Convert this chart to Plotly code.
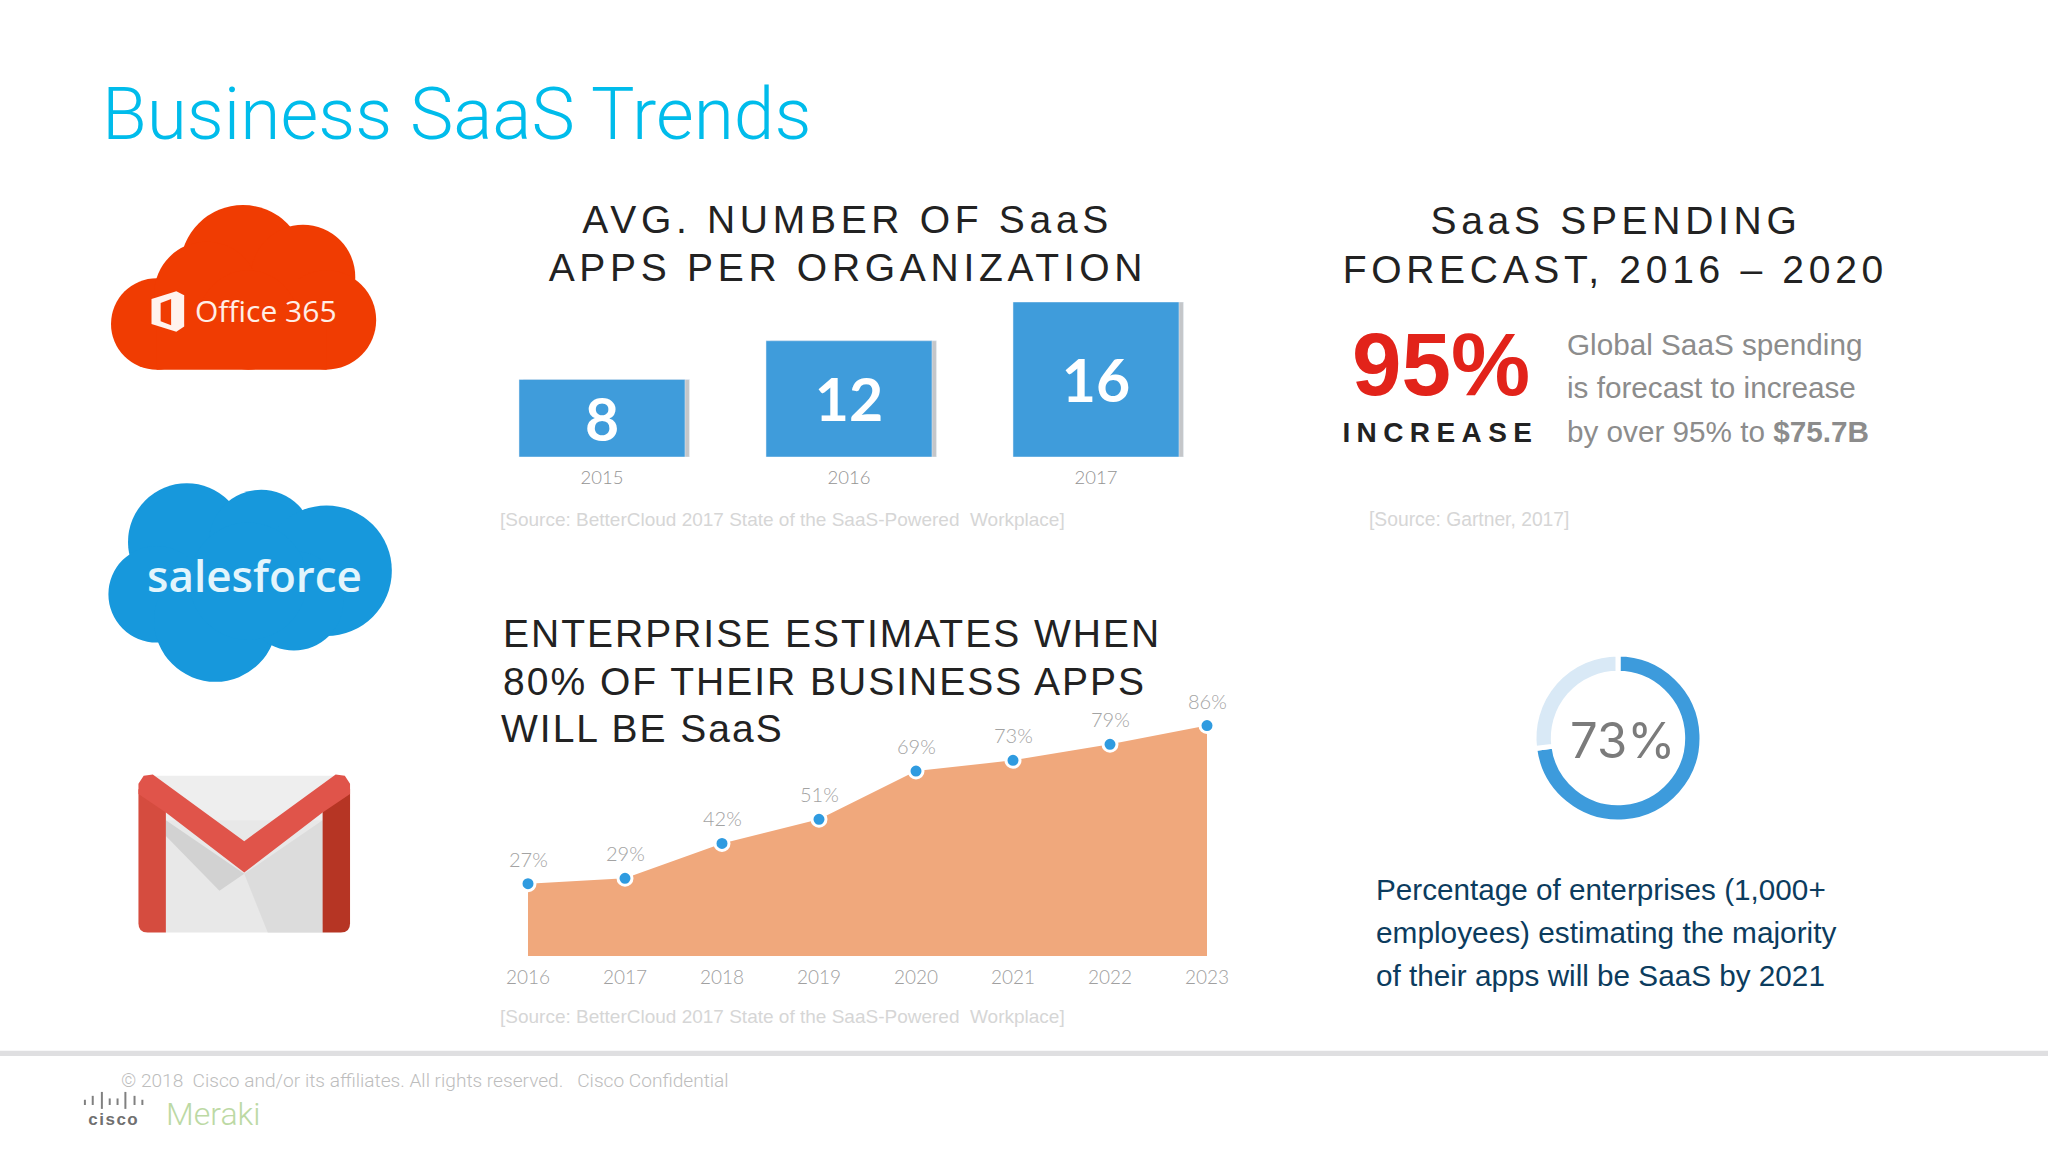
import json
import plotly.graph_objects as go

# datos
bar_years = ["2015", "2016", "2017"]
apps_per_org = [8, 12, 16]
area_years = [2016, 2017, 2018, 2019, 2020, 2021, 2022, 2023]
area_pct = [27, 29, 42, 51, 69, 73, 79, 86]
donut_values = [73, 27]

W, H = 2048, 1152
SANS = "Liberation Sans"
THIN = "Roboto"
GAUGE = "Lato"


def dom_x(a, b):
    return [a / W, b / W]


def dom_y(top, bottom):
    return [1 - bottom / H, 1 - top / H]


fig = go.Figure()

# barras con su sombra
fig.add_trace(go.Bar(x=bar_years, y=apps_per_org, width=0.672, offset=-0.318, marker_color="#c4c6c9",
                     hoverinfo="skip", showlegend=False, xaxis="x", yaxis="y", cliponaxis=False))
fig.add_trace(go.Bar(x=bar_years, y=apps_per_org, width=0.672, offset=-0.336, marker_color="#3f9cdb",
                     text=apps_per_org, textposition="inside", insidetextanchor="middle", textangle=0,
                     constraintext="none", textfont=dict(family=GAUGE, size=59, color="white", weight=700),
                     showlegend=False, xaxis="x", yaxis="y", cliponaxis=False))

# area
fig.add_trace(go.Scatter(x=area_years, y=area_pct, mode="lines", fill="tozeroy", fillcolor="#f0a87c",
                         line=dict(width=0, color="#f0a87c"), showlegend=False, xaxis="x2", yaxis="y2"))
fig.add_trace(go.Scatter(x=area_years, y=area_pct, mode="markers", cliponaxis=False,
                         marker=dict(size=14, color="#2f9be0", line=dict(width=3, color="white")),
                         showlegend=False, xaxis="x2", yaxis="y2"))

# anillo
fig.add_trace(go.Pie(values=donut_values, hole=0.77, sort=False, direction="clockwise", rotation=0,
                     marker=dict(colors=["#3d9bdc", "#d9e9f6"], line=dict(color="white", width=5)),
                     textinfo="none", hoverinfo="skip", showlegend=False,
                     domain=dict(x=dom_x(1534, 1702), y=dom_y(654, 822))))

annotations = []


def label(x, y, text, size, color, family=SANS, anchor="center", weight=None):
    # x, y en las coordenadas de la capa de fondo (0-1568)
    font = dict(family=family, size=size, color=color)
    if weight:
        font["weight"] = weight
    annotations.append(dict(xref="x3", yref="y3", x=x, y=y, text=text, showarrow=False, xanchor=anchor,
                            yanchor="middle", font=font, borderpad=0))


for year, pct in zip(area_years, area_pct):
    annotations.append(dict(xref="x2", yref="y2", x=year, y=pct, text=f"{pct}%", showarrow=False, yshift=25,
                            font=dict(family=GAUGE, size=20, color="#a3a3a3", weight=300)))

label(77, 87, "Business SaaS Trends", 73, "#00bceb", THIN, "left", 300)

label(649, 168, "AVG. NUMBER OF SaaS", 39, "#222222")
label(649, 205, "APPS PER ORGANIZATION", 39, "#222222")
label(1237, 169, "SaaS SPENDING", 39, "#222222")
label(1237, 206, "FORECAST, 2016 – 2020", 39, "#222222")
label(637, 485, "ENTERPRISE ESTIMATES WHEN", 39, "#222222")
label(631, 522, "80% OF THEIR BUSINESS APPS", 39, "#222222")
label(492, 558, "WILL BE SaaS", 39, "#222222")

label(1103, 279, "95%", 89, "#e2231a", SANS, "center", 700)
label(1103, 331, "INCREASE", 28, "#222222", SANS, "center", 700)
label(1199, 264, "Global SaaS spending", 29.7, "#8c8c8c", SANS, "left")
label(1199, 297, "is forecast to increase", 29.7, "#8c8c8c", SANS, "left")
label(1199, 330, "by over 95% to <b>$75.7B</b>", 29.7, "#8c8c8c", SANS, "left")

label(382, 398, "[Source: BetterCloud 2017 State of the SaaS-Powered  Workplace]", 19, "#d6d6d6", SANS, "left")
label(382, 778, "[Source: BetterCloud 2017 State of the SaaS-Powered  Workplace]", 19, "#d6d6d6", SANS, "left")
label(1047, 398, "[Source: Gartner, 2017]", 19.3, "#d6d6d6", SANS, "left")

label(1242, 567, "73%", 49, "#7b7b7b", "Inter")
label(1053, 681, "Percentage of enterprises (1,000+", 29.7, "#0c3c5e", SANS, "left")
label(1053, 714, "employees) estimating the majority", 29.8, "#0c3c5e", SANS, "left")
label(1053, 747, "of their apps will be SaaS by 2021", 29.7, "#0c3c5e", SANS, "left")

label(92, 827, "© 2018  Cisco and/or its affiliates. All rights reserved.   Cisco Confidential", 19.1, "#bdbdbd", THIN, "left", 300)
label(87, 857, "cisco", 17, "#707070", SANS, "center", 700)
label(126, 853, "Meraki", 32, "#bcd9a4", THIN, "left", 300)

label(204, 238, "Office 365", 30, "#ffeee6", "Open Sans")
label(195, 440, "salesforce", 44, "#e3f5fc", "Open Sans", "center", 600)

shapes = []


def circle(cx, cy, r, color):
    shapes.append(dict(type="circle", xref="x3", yref="y3", x0=cx - r, x1=cx + r, y0=cy - r, y1=cy + r,
                       fillcolor=color, line_width=0, layer="below"))


def poly(points, color):
    d = "M " + " L ".join(f"{x},{y}" for x, y in points) + " Z"
    shapes.append(dict(type="path", xref="x3", yref="y3", path=d, fillcolor=color, line_width=0, layer="below"))


# nube Office 365
orange = "#f03c02"
for cx, cy, r in [(186, 205, 48), (232, 212, 40), (250, 245, 38), (120, 248, 35), (158, 225, 40), (190, 245, 38)]:
    circle(cx, cy, r, orange)
poly([(120, 283), (250, 283), (250, 240), (120, 240)], orange)
poly([(116, 229), (135, 223), (141, 226), (141, 250), (135, 254), (116, 248)], "#fff3ee")
poly([(123, 232), (131, 229), (131, 249), (123, 246)], orange)

# nube salesforce
blue = "#1798dc"
for cx, cy, r in [(143, 415, 45), (200, 415, 40), (250, 437, 50), (120, 455, 37), (165, 475, 47), (225, 460, 38), (190, 445, 45)]:
    circle(cx, cy, r, blue)

# sobre de Gmail
poly([(118, 594), (256, 594), (256, 650), (118, 650)], "#eeeeee")
poly([(127, 628), (247, 628), (247, 714), (127, 714)], "#e8e8e8")
poly([(187, 669), (247, 628), (247, 714), (205, 714)], "#dcdcdc")
poly([(127, 628), (187, 669), (168, 682), (127, 640)], "#d2d2d2")
shapes.append(dict(type="path", xref="x3", yref="y3", line_width=0, layer="below", fillcolor="#d54c3f",
                   path="M 106,604 L 127,620 L 127,714 L 113,714 Q 106,714 106,707 Z"))
shapes.append(dict(type="path", xref="x3", yref="y3", line_width=0, layer="below", fillcolor="#b63524",
                   path="M 268,604 L 247,620 L 247,714 L 261,714 Q 268,714 268,707 Z"))
poly([(106, 600), (110, 594), (117, 593), (187, 644), (257, 593), (264, 594), (268, 600), (268, 608),
      (247, 622), (187, 668), (127, 622), (106, 608)], "#e0544a")

# pie de pagina
shapes.append(dict(type="rect", xref="x3", yref="y3", x0=0, x1=1568, y0=804.5, y1=808.5,
                   fillcolor="#dfdfe1", line_width=0, layer="below"))
for bx, top, bottom in [(65, 842, 846), (71, 839, 846), (78, 836, 849), (84, 841, 846), (90, 841, 846),
                        (96, 836, 849), (103, 839, 846), (109, 842, 846)]:
    shapes.append(dict(type="line", xref="x3", yref="y3", x0=bx, x1=bx, y0=top, y1=bottom,
                       line=dict(color="#808080", width=2), layer="below"))

fig.update_layout(
    width=W, height=H,
    margin=dict(l=0, r=0, t=0, b=0, autoexpand=False),
    paper_bgcolor="white", plot_bgcolor="rgba(0,0,0,0)",
    barmode="overlay",
    showlegend=False,
    annotations=annotations,
    shapes=shapes,
    xaxis=dict(domain=dom_x(478.5, 1219.5), range=[-0.5, 2.5], type="category", anchor="y", showgrid=False,
               zeroline=False, showline=False, ticks="outside", ticklen=4, tickcolor="rgba(0,0,0,0)",
               tickfont=dict(family=GAUGE, size=18.5, color="#949494", weight=300)),
    yaxis=dict(domain=dom_y(302, 457), range=[0, 16], anchor="x", visible=False),
    xaxis2=dict(domain=dom_x(528, 1207), range=[2016, 2023], anchor="y2", showgrid=False, zeroline=False,
                showline=False, tickvals=area_years, ticktext=[str(y) for y in area_years], ticks="outside",
                ticklen=4, tickcolor="rgba(0,0,0,0)",
                tickfont=dict(family=GAUGE, size=19, color="#a0a0a0", weight=300)),
    yaxis2=dict(domain=dom_y(688, 956), range=[0, 100], anchor="x2", visible=False),
    xaxis3=dict(domain=[0, 1], range=[0, 1568], anchor="y3", visible=False),
    yaxis3=dict(domain=[0, 1], range=[882, 0], anchor="x3", visible=False),
)

# el espaciado entre letras no existe en plotly, se aplica al terminar
spacing = {
    "AVG.": 4.7, "APPS PER": 4.7, "SaaS SPENDING": 4.7, "FORECAST": 4.7,
    "ENTERPRISE": 2.0, "80% OF": 2.0, "WILL BE": 2.0,
    "INCREASE": 6.4, "cisco": 1.5,
}
post = """
document.body.style.margin = '0';
document.body.style.overflow = 'hidden';
var sp = %s;
document.querySelectorAll('text.annotation-text').forEach(function (t) {
  Object.keys(sp).forEach(function (k) {
    if (t.textContent.indexOf(k) === 0) { t.style.letterSpacing = sp[k] + 'px'; }
  });
});
""" % json.dumps(spacing)

fig.write_html("out.html", post_script=post, config=dict(displayModeBar=False))
